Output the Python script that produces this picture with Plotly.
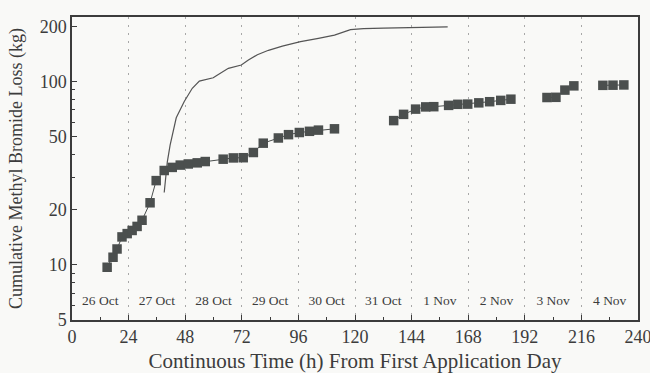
import plotly.graph_objects as go

# Hourly sampled methyl bromide loss (squares, measured); None splits the sampling campaigns
sq_hours = [14.9, 17.4, 19.1, 21.2, 23.4, 25.5, 27.6, 29.7, 33.1, 35.7, 39.1, 42.5, 45.9,
            49.3, 53.1, 56.5, 64.1, 68.4, 72.6, 76.9, 81.1, 87.5, 91.8, 96.4, 100.7, 104.5,
            111.3, None,
            136.4, 140.6, 145.7, 150.0, 153.4, 159.7, 163.6, 167.8, 172.5, 177.1, 181.8,
            186.1, None,
            201.4, 205.2, 209.0, 212.8, None,
            225.1, 229.4, 234.0]
sq_loss = [9.7, 11.0, 12.2, 14.2, 14.8, 15.4, 16.2, 17.5, 21.8, 28.8, 32.7, 34.0, 35.0,
           35.5, 36.0, 36.6, 37.7, 38.3, 38.4, 41.0, 46.1, 49.2, 51.3, 52.7, 53.5, 54.3,
           55.2, None,
           61.2, 66.2, 70.7, 72.7, 72.9, 74.1, 75.1, 75.3, 76.5, 77.6, 78.9,
           80.1, None,
           81.8, 82.0, 89.8, 94.7, None,
           95.3, 95.5, 95.8]

# Continuous estimate (thin line)
ln_hours = [39.1, 40.4, 41.6, 44.2, 47.6, 51.0, 54.0, 56.9, 59.9, 61.2, 64.1, 66.3, 71.8,
            74.8, 78.6, 83.3, 89.2, 96.9, 104.5, 111.3, 118.1, 123.6, 132.1, 146.6, 159.3]
ln_loss = [24.8, 36.3, 45.0, 63.4, 77.8, 91.9, 100.6, 103.0, 104.8, 107.6, 113.0, 118.0, 123.0,
           131.0, 140.0, 148.0, 156.0, 165.0, 172.0, 179.0, 192.0, 194.5, 195.5, 197.0, 198.5]

# Calendar day labels, centred on each 24 h block
day_labels = ["26 Oct", "27 Oct", "28 Oct", "29 Oct", "30 Oct", "31 Oct",
              "1 Nov", "2 Nov", "3 Nov", "4 Nov"]
day_centres = [12, 36, 60, 84, 108, 132, 156, 180, 204, 228]
day_label_level = 6.3

x_ticks = [0, 24, 48, 72, 96, 120, 144, 168, 192, 216, 240]
y_ticks = [5, 10, 20, 50, 100, 200]
y_minor = [6, 7, 8, 9, 30, 40, 60, 70, 80, 90]

ink = "#3c3c3c"
mark = "#4b4f4e"
paper = "#f9f9f7"
serif = "Liberation Serif"

fig = go.Figure()

fig.add_trace(go.Scatter(
    x=ln_hours, y=ln_loss, mode="lines",
    line=dict(color="#555555", width=1.2),
    showlegend=False, hoverinfo="skip",
))

fig.add_trace(go.Scatter(
    x=sq_hours, y=sq_loss, mode="lines+markers",
    line=dict(color=mark, width=1),
    marker=dict(symbol="square", size=9.5, color=mark, line=dict(width=0)),
    connectgaps=False, showlegend=False,
))

fig.add_trace(go.Scatter(
    x=day_centres, y=[day_label_level] * len(day_labels), mode="text",
    text=day_labels, textposition="middle center",
    textfont=dict(family=serif, size=13.5, color=ink),
    showlegend=False, hoverinfo="skip",
))

fig.update_layout(
    width=650, height=373,
    margin=dict(l=72, r=12, t=17, b=53),
    paper_bgcolor=paper, plot_bgcolor=paper,
    font=dict(family=serif, color=ink),
)

fig.update_xaxes(
    automargin=False, ticklabeloverflow="allow",
    range=[0, 240], tickvals=x_ticks,
    ticks="inside", ticklen=5, tickwidth=1, tickcolor=ink,
    minor=dict(dtick=12, ticks="inside", ticklen=3, tickcolor=ink, showgrid=False),
    showline=True, linecolor=ink, linewidth=1.5, mirror=True,
    showgrid=True, gridcolor="#a8a8a8", griddash="2px,6px", gridwidth=1,
    zeroline=False,
    tickfont=dict(family=serif, size=18, color=ink),
    title=dict(text="Continuous Time (h) From First Application Day",
               font=dict(family=serif, size=21, color=ink), standoff=9),
)

fig.update_yaxes(
    automargin=False,
    type="log", range=[0.69897, 2.352],
    tickvals=y_ticks, ticktext=[str(v) for v in y_ticks],
    ticks="inside", ticklen=5, tickwidth=1, tickcolor=ink,
    minor=dict(tickvals=y_minor, ticks="inside", ticklen=3, tickcolor=ink, showgrid=False),
    showline=True, linecolor=ink, linewidth=1.5, mirror=True,
    showgrid=False, zeroline=False,
    tickfont=dict(family=serif, size=18, color=ink),
    title=dict(text="Cumulative Methyl Bromide Loss (kg)",
               font=dict(family=serif, size=18, color=ink), standoff=12),
)

fig.write_html("out.html")
